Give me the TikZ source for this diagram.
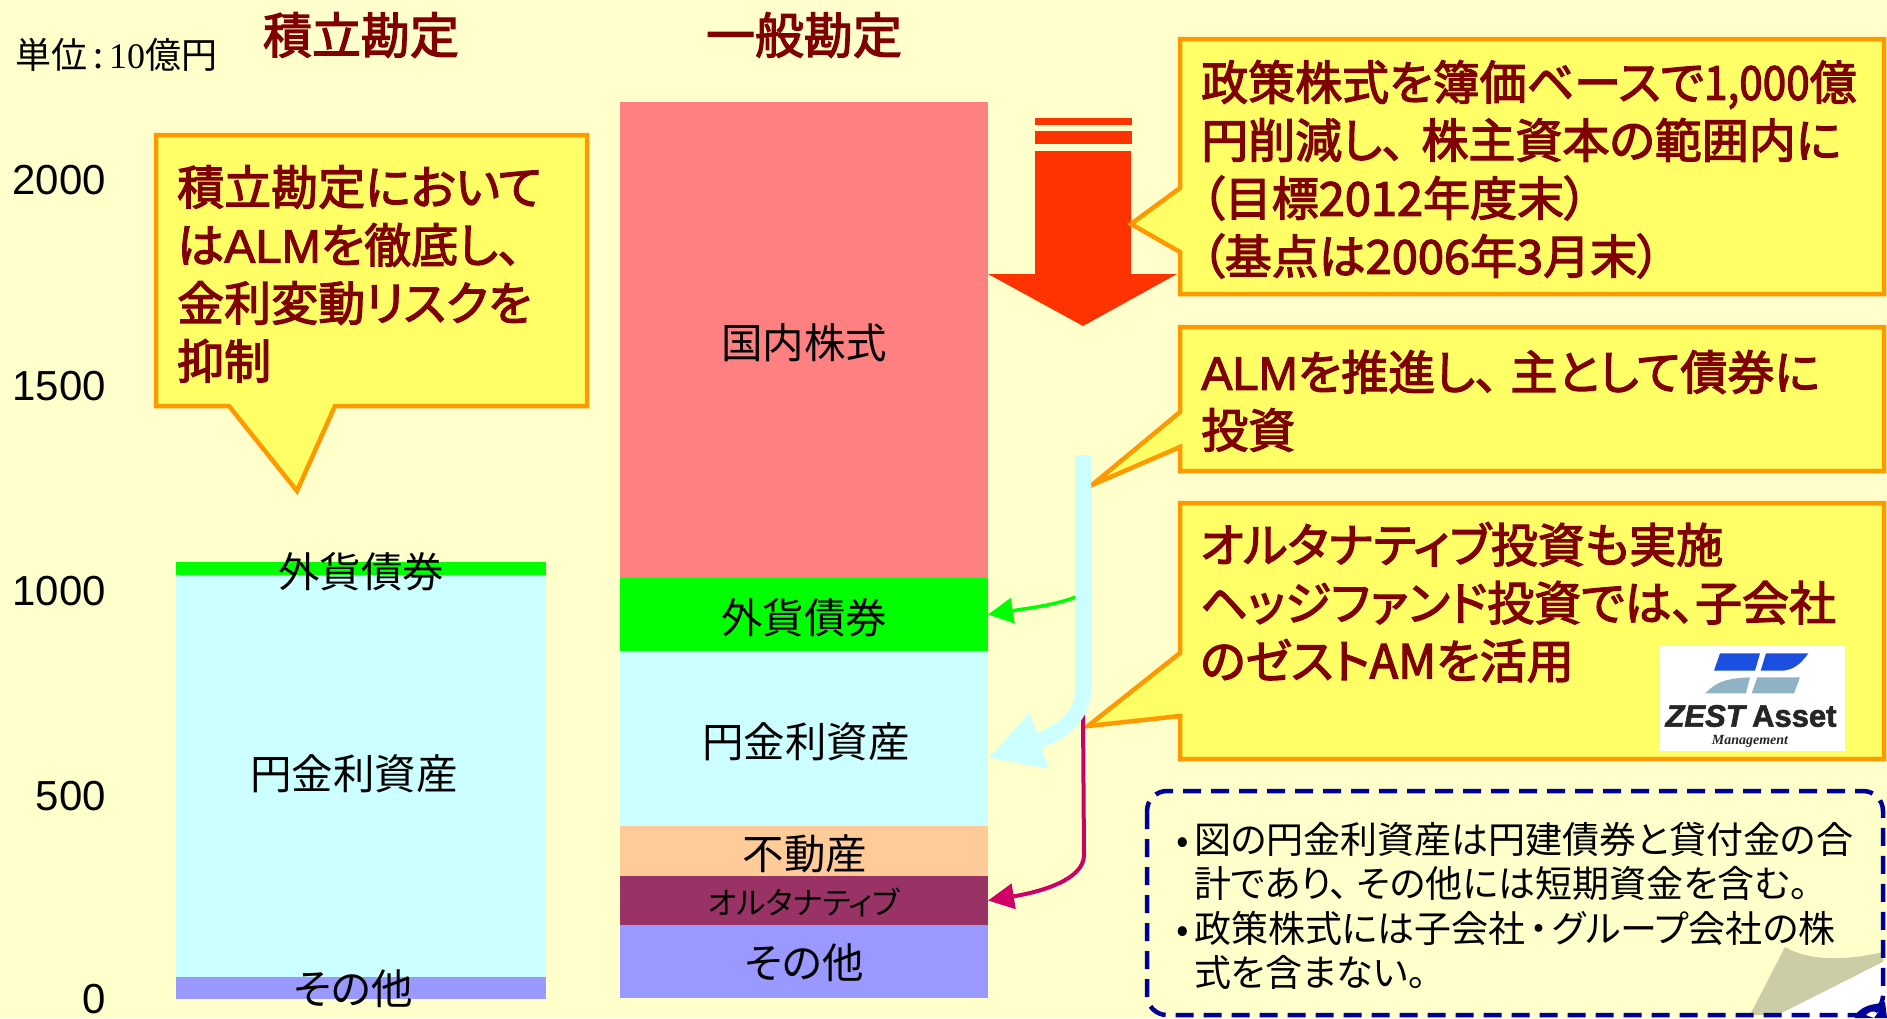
\documentclass[tikz,border=0pt]{standalone}
\usepackage{fontspec}
\setmainfont{Liberation Sans}
\newfontfamily\jp[RawFeature=+palt]{Noto Sans CJK JP}
\newfontfamily\jpb[RawFeature=+palt,FakeBold=2.6]{Noto Sans CJK JP}
\newfontfamily\lserif{Liberation Serif}
\newfontfamily\lsansb[FakeBold=2]{Liberation Sans}
\usetikzlibrary{arrows.meta}
\definecolor{bgc}{HTML}{FFFFCC}
\definecolor{calloutfill}{HTML}{FFFF66}
\definecolor{calloutline}{HTML}{FF9900}
\definecolor{darkred}{HTML}{800000}
\definecolor{navyd}{HTML}{000099}
\definecolor{redarrow}{HTML}{FF3300}
\definecolor{cpink}{HTML}{FF8080}
\definecolor{cgreen}{HTML}{00FF00}
\definecolor{ccyan}{HTML}{CCFFFF}
\definecolor{corange}{HTML}{FFCC99}
\definecolor{cpurple}{HTML}{993366}
\definecolor{cblue}{HTML}{9999FF}
\definecolor{cmag}{HTML}{CC0066}
\definecolor{curl}{HTML}{CCCCA6}
\definecolor{logoblue}{HTML}{1A4FE0}
\definecolor{logogrey}{HTML}{8FB3C2}
\tikzset{
  barbox/.style={rectangle,draw=none,inner sep=0pt,outer sep=0pt},
  barlabel/.style={inner sep=0pt,font=\jp\fontsize{41.5}{41.5}\selectfont,text=black},
  axislabel/.style={anchor=east,inner sep=0pt,font=\fontsize{42}{42}\selectfont,text=black},
  heading/.style={inner sep=0pt,font=\jpb\fontsize{49}{49}\selectfont,text=darkred},
  calloutshape/.style={draw=calloutline,fill=calloutfill,line width=4.5pt,miter limit=10},
  callouttext/.style={anchor=north west,inner sep=0pt,align=left,text=darkred,font=\jpb\fontsize{47}{58}\selectfont},
}
\begin{document}
\begin{tikzpicture}[x=1pt,y=-1pt]
\useasboundingbox (0,0) rectangle (1887,1018);
\fill[bgc] (0,0) rectangle (1887,1018);

% stacked bars: reserve account
\node[barbox,fill=cgreen,minimum width=370pt,minimum height=13pt] (rFx) at (361,568.5) {};
\node[barbox,fill=ccyan,minimum width=370pt,minimum height=402pt] (rYen) at (361,776) {};
\node[barbox,fill=cblue,minimum width=370pt,minimum height=22pt] (rOther) at (361,988) {};
% stacked bars: general account
\node[barbox,fill=cpink,minimum width=368pt,minimum height=476pt] (gStock) at (804,340) {};
\node[barbox,fill=cgreen,minimum width=368pt,minimum height=73pt] (gFx) at (804,614.5) {};
\node[barbox,fill=ccyan,minimum width=368pt,minimum height=175pt] (gYen) at (804,738.5) {};
\node[barbox,fill=corange,minimum width=368pt,minimum height=50pt] (gReal) at (804,851) {};
\node[barbox,fill=cpurple,minimum width=368pt,minimum height=49pt] (gAlt) at (804,900.5) {};
\node[barbox,fill=cblue,minimum width=368pt,minimum height=73pt] (gOther) at (804,961.5) {};

% bar labels
\node[barlabel] (lrFx) at (361,572) {外貨債券};
\node[barlabel] (lrYen) at (354,774) {円金利資産};
\node[barlabel] (lrOther) at (353,989) {その他};
\node[barlabel] (lgStock) at (804,343) {国内株式};
\node[barlabel] (lgFx) at (804,618) {外貨債券};
\node[barlabel] (lgYen) at (806,742) {円金利資産};
\node[barlabel] (lgReal) at (805,854) {不動産};
\node[barlabel,font=\jp\fontsize{31}{31}\selectfont] (lgAlt) at (804,902) {オルタナティブ};
\node[barlabel] (lgOther) at (804,963) {その他};

% axis
\node[axislabel] (a2000) at (106,180) {2000};
\node[axislabel] (a1500) at (106,386) {1500};
\node[axislabel] (a1000) at (106,591) {1000};
\node[axislabel] (a500) at (106,796) {500};
\node[axislabel] (a0) at (106,999) {0};

% headings
\node[heading] (hR) at (361,35) {積立勘定};
\node[heading] (hG) at (804,35) {一般勘定};
\node[anchor=west,inner sep=0pt,font=\jp\fontsize{36}{36}\selectfont] (unit) at (15,55) {単位\hspace{6pt}:\hspace{6pt}{\lserif 10}億円};

% red arrow
\fill[redarrow] (1035,118) rectangle (1132,125);
\fill[redarrow] (1035,131) rectangle (1132,144);
\fill[redarrow] (1035,151) -- (1131,151) -- (1131,274) -- (1177,274) -- (1083,326) -- (988,274) -- (1035,274) -- cycle;

% callouts
\draw[calloutshape] (1180,39) -- (1884,39) -- (1884,294) -- (1180,294) -- (1180,252) -- (1131,224) -- (1180,188) -- cycle;
\draw[calloutshape] (1180,327) -- (1884,327) -- (1884,471) -- (1180,471) -- (1180,447) -- (1092,485) -- (1180,412) -- cycle;
\draw[calloutshape] (1180,503) -- (1884,503) -- (1884,759) -- (1180,759) -- (1180,716) -- (1088,726) -- (1180,653) -- cycle;
\draw[calloutshape] (156,135) -- (587,135) -- (587,406) -- (335,406) -- (297,491) -- (229,406) -- (156,406) -- cycle;

\node[callouttext] (c1) at (1201,60) {政策株式を簿価ベースで\scalebox{.9}[1]{1,000}億\\円削減し、\hspace{16pt}株主資本の範囲内に\\（目標2012年度末）\\（基点は2006年3月末）};
\node[callouttext] (c2) at (1201,350) {{\lsansb ALM}を推進し、\hspace{12pt}主として債券に\\投資};
\node[callouttext] (c3) at (1200,522) {オルタナティブ投資も実施\\ヘッジファンド投資では、子会社\\のゼストAMを活用};
\node[callouttext] (c4) at (177,165) {積立勘定において\\は{\lsansb ALM}を徹底し、\\金利変動リスクを\\抑制};

% connectors
\coordinate (magStart) at (1083,715);
\coordinate (greenStart) at (1076,597);
\coordinate (cyanStart) at (1083,455);
\coordinate (cyanTip) at (988,758);
\draw[cmag,line width=4pt,-{Triangle[length=26pt,width=25pt]}] (magStart) -- (1084,855) .. controls (1084,880) and (1040,892) .. (gAlt.east);
\draw[cgreen,line width=3.5pt,-{Triangle[length=25pt,width=25pt]}] (greenStart) .. controls (1055,605) and (1030,608) .. (gFx.east);
\draw[ccyan,line width=16pt,-{Triangle[length=54pt,width=55pt]}] (cyanStart) -- (1083,690) .. controls (1083,722) and (1050,737) .. (cyanTip);

% logo
\fill[white] (1659,646) rectangle (1845,751);
\begin{scope}[shift={(1640,640)},x=0.3333pt,y=-0.3333pt]
\fill[logoblue] (240,40) -- (360,40) -- (345,92) -- (222,92) -- cycle;
\fill[logoblue] (378,40) -- (505,40) .. controls (480,75) and (460,88) .. (430,92) -- (362,92) -- cycle;
\fill[logogrey] (196,160) .. controls (225,130) and (250,115) .. (330,112) -- (318,160) -- cycle;
\fill[logogrey] (352,112) -- (480,112) -- (462,160) -- (335,160) -- cycle;
\end{scope}
\node[inner sep=0pt,font=\lsansb\bfseries\fontsize{31}{31}\selectfont,text=black!85] (zest) at (1751,716) {\textit{ZEST}\,Asset};
\node[inner sep=0pt,font=\lserif\bfseries\itshape\fontsize{14}{14}\selectfont,text=black!85] (zestm) at (1750,741) {Management};

% note box with page curl
\fill[curl] (1785,947) .. controls (1810,962) and (1850,960) .. (1883,952) -- (1883,962) -- (1778,1015) -- (1750,1015) -- cycle;
\fill[white] (1883,962) -- (1778,1015) -- (1778,1018) -- (1887,1018) -- (1887,962) -- cycle;
\fill[navyd] (1855,1015) .. controls (1865,1003) and (1875,1005) .. (1885,1002) -- (1887,1018) -- (1855,1018) -- cycle;
\fill[white] (1866,1015) .. controls (1870,1011) and (1874,1011) .. (1878,1012) -- (1874,1018) -- cycle;
\draw[navyd,line width=4.5pt,dash pattern=on 18pt off 10pt,rounded corners=20pt] (1147,791) rectangle (1883,1015);
\node[anchor=north west,inner sep=0pt,align=left,text=black,font=\jp\fontsize{37}{44.5}\selectfont] (note) at (1176,822) {\makebox[18pt][l]{•}図の円金利資産は円建債券と貸付金の合\\\hspace*{18pt}計であり、\hspace{8pt}その他には短期資金を含む。\\\makebox[18pt][l]{•}政策株式には子会社\hspace{4pt}・\hspace{4pt}グループ会社の株\\\hspace*{18pt}式を含まない。};
\end{tikzpicture}
\end{document}
